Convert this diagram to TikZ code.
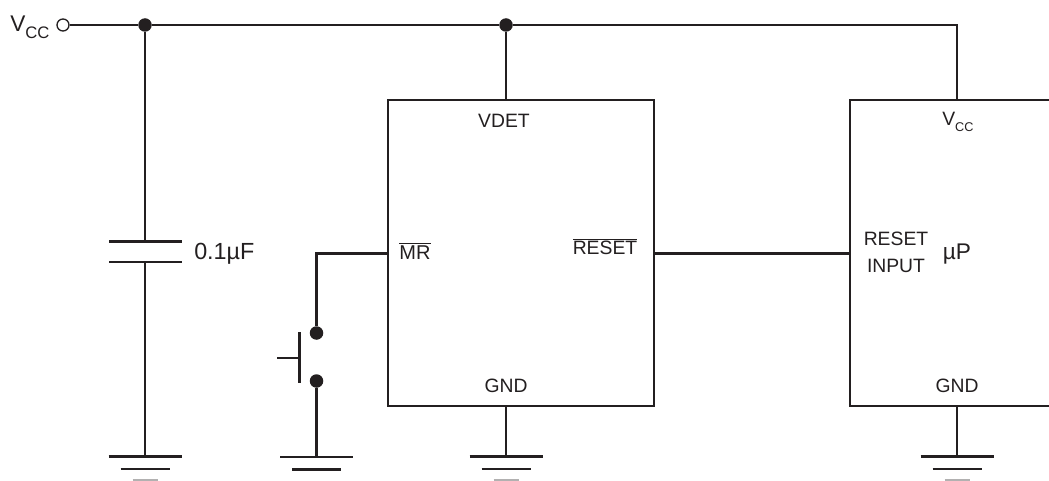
\documentclass[tikz,border=0pt]{standalone}
\usepackage{fontspec}
\setmainfont{Liberation Sans}
\usepackage{xcolor}
\definecolor{ink}{HTML}{231F20}
\tikzset{
 wire/.style={draw=ink,line width=2.2pt,line cap=butt},
 dot/.style={circle,fill=ink,inner sep=0pt,minimum size=13.5*0.75pt},
 term/.style={circle,draw=ink,line width=1pt,fill=white,inner sep=0pt,minimum size=12*0.75pt},
 lab/.style={inner sep=0pt,text=ink,font=\fontsize{14.5}{16}\selectfont},
 big/.style={inner sep=0pt,text=ink,font=\fontsize{17}{19}\selectfont},
}
\begin{document}
\begin{tikzpicture}[x=0.75pt,y=-0.75pt]
\useasboundingbox (0,0) rectangle (1049,481);

\def\h{36.5} \def\m{24.5} \def\n{12.5}

%supply rail
\node[term] (vin) at (63,25) {};
\node[dot] (ja) at (145,25) {};
\node[dot] (jb) at (506,25) {};
\coordinate (corner) at (957,25);
\coordinate (vcctop) at (957,100);
\draw[wire] (vin) -- (ja) -- (jb) -- (corner) -- (vcctop);
\node[big,anchor=base west] (vcc) at (10,32) {V\raisebox{-0.55ex}{\fontsize{12.5}{14}\selectfont CC}};

%reset chip
\node[draw=ink,line width=2.2pt,fill=white,minimum width=266*0.75pt,minimum height=306*0.75pt,inner sep=0pt] (chip) at (521,253) {};
\draw[wire] (jb) -- (jb|-chip.north);
\node[lab] (vdet) at (504,121) {VDET};
\node[lab] (gnda) at (506,386) {GND};
\node[lab,font=\fontsize{15}{17}\selectfont] (mr) at (415,251) {$\overline{\mbox{MR}}$};
\node[lab] (rst) at (605,247) {$\overline{\mbox{RESET}}$};

%processor, open at the right
\coordinate (pnw) at (850,100);
\coordinate (psw) at (850,406);
\coordinate (pne) at (1049,100);
\coordinate (pse) at (1049,406);
\coordinate (prst) at (850,253.5);
\draw[wire] (pne) -- (pnw) -- (psw) -- (pse);
\node[lab,anchor=base west] (vccb) at (942,126) {V\raisebox{-0.55ex}{\fontsize{9.5}{11}\selectfont CC}};
\node[lab,anchor=base] (rsta) at (896,245) {RESET};
\node[lab,anchor=base] (rstb) at (896,272) {INPUT};
\node[big] (up) at (957,254) {µP};
\node[lab] (gndb) at (957,386) {GND};
\draw[wire] (chip.east|-prst) -- (prst);

%capacitor
\coordinate (capa) at (145,241.5);
\coordinate (capb) at (145,262);
\draw[wire] (ja) -- (capa);
\draw[wire] (109,241.5) -- (182,241.5);
\draw[wire] (109,262) -- (182,262);
\node[big,anchor=west,font=\fontsize{17.5}{19}\selectfont] (capval) at (194,254) {0.1µF};

%push button
\coordinate (mrout) at (316.5,253.5);
\node[dot] (swa) at (316.5,333) {};
\node[dot] (swb) at (316.5,381) {};
\coordinate (bar) at (299.5,358);
\draw[wire] (chip.west|-mrout) -- (mrout) -- (swa);
\draw[wire] (299.5,332) -- (299.5,382.5);
\draw[wire] (277,358) -- (bar);

%grounds
\coordinate (gnda1) at (145,456.5);
\coordinate (gnda2) at (316.5,457);
\coordinate (gnda3) at (506,456.5);
\coordinate (gnda4) at (957,456.5);
\draw[wire] (capb) -- (gnda1);
\draw[wire] (swb) -- (gnda2);
\draw[wire] (jb|-chip.south) -- (gnda3);
\draw[wire] (gndb|-psw) -- (gnda4);
\foreach \g in {gnda1,gnda2,gnda3,gnda4} {
 \begin{scope}[shift={(\g)}]
  \draw[wire] (-\h,0) -- (\h,0);
  \draw[wire] (-\m,12.5) -- (\m,12.5);
 \end{scope}
}
\foreach \g in {gnda1,gnda3,gnda4} {
 \begin{scope}[shift={(\g)}]
  \draw[draw=ink!35,line width=1.5pt] (-\n,23.5) -- (\n,23.5);
 \end{scope}
}
\end{tikzpicture}
\end{document}
